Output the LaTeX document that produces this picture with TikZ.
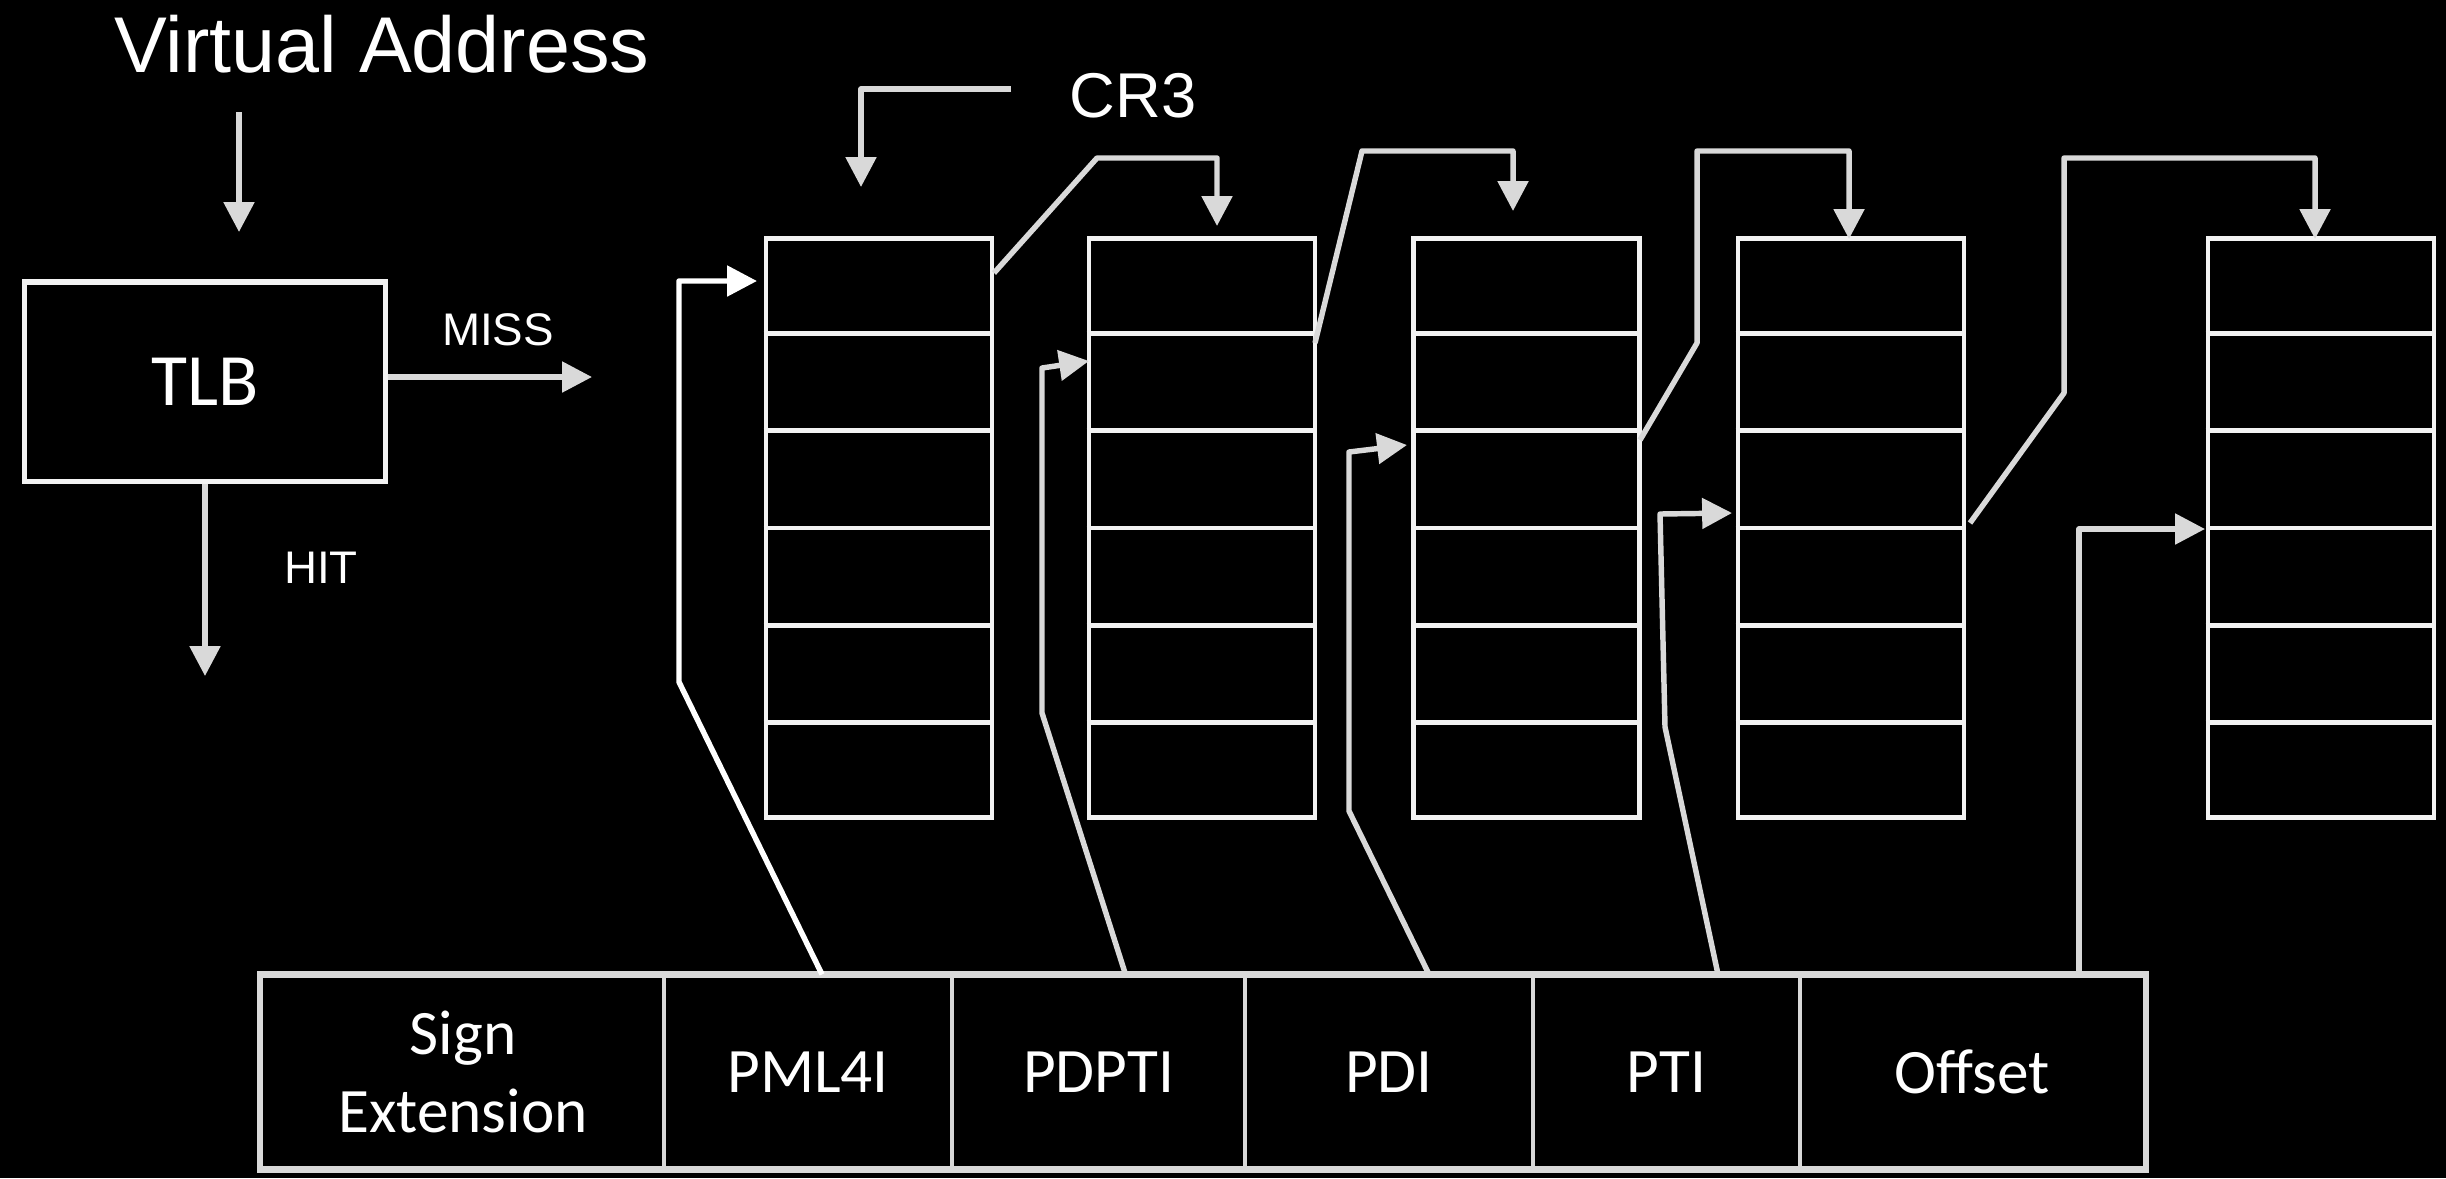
\documentclass[tikz,border=0pt]{standalone}
\usepackage{fontspec}
\newfontfamily\arial{Liberation Sans}
\newfontfamily\calib{Carlito}
\usetikzlibrary{arrows.meta,calc}
\definecolor{conn}{HTML}{D9D9D9}
\definecolor{boxc}{HTML}{F2F2F2}
\tikzset{
  tbl/.style={draw=boxc, line width=1.35pt, minimum width=2.26cm, minimum height=5.78cm, inner sep=0pt},
  cell/.style={draw=conn, line width=0.9pt, minimum height=1.92cm, inner sep=0pt, text=white, font=\calib\fontsize{18}{22}\selectfont, align=center},
  conline/.style={draw=conn, line width=1.55pt, line join=round},
  arr/.style={conline, -{Triangle[length=8.5pt,width=8.5pt]}},
  lbl/.style={text=white, inner sep=0pt}
}
\begin{document}
\begin{tikzpicture}[x=0.01cm,y=-0.01cm]
\fill[black] (0,0) rectangle (2446,1178);
\useasboundingbox (0,0) rectangle (2446,1178);

% titles
\node[lbl, font=\arial\fontsize{22.5}{26}\selectfont] (va) at (382,44) {Virtual Address};
\node[lbl, font=\arial\fontsize{18}{22}\selectfont] (cr3) at (1133,96) {CR3};

% TLB
\node[draw=boxc, line width=1.45pt, minimum width=3.6cm, minimum height=1.99cm, inner sep=0pt, text=white, font=\calib\fontsize{21}{25}\selectfont] (tlb) at (205,381.5) {TLB};
\node[lbl, font=\arial\fontsize{13}{16}\selectfont] (miss) at (498,330) {MISS};
\node[lbl, font=\arial\fontsize{13}{16}\selectfont] (hit) at (321,568) {HIT};

\coordinate (vaA) at (239,112);
\coordinate (vaB) at (239,232);
\draw[arr] (vaA) -- (vaB);
\coordinate (missend) at (592,377);
\draw[arr] (tlb.east |- missend) -- (missend);
\coordinate (hitend) at (205,676);
\draw[arr] (tlb.south) -- (hitend);

% tables
\node[tbl] (t1) at (879,528) {};
\node[tbl] (t2) at (1202,528) {};
\node[tbl] (t3) at (1526.5,528) {};
\node[tbl] (t4) at (1851,528) {};
\node[tbl] (t5) at (2321,528) {};
\foreach \t in {t1,t2,t3,t4,t5}{
  \foreach \i in {1,...,5}{
    \draw[boxc, line width=1.35pt] ($(\t.north west)!\i/6!(\t.south west)$) -- ($(\t.north east)!\i/6!(\t.south east)$);
  }
}

% address bar
\node[cell, minimum width=4.02cm] (c1) at (463,1072) {Sign\\Extension};
\node[cell, minimum width=2.88cm] (c2) at (808,1072) {PML4I};
\node[cell, minimum width=2.93cm] (c3) at (1098.5,1072) {PDPTI};
\node[cell, minimum width=2.88cm] (c4) at (1389,1072) {PDI};
\node[cell, minimum width=2.67cm] (c5) at (1666.5,1072) {PTI};
\node[cell, minimum width=3.44cm] (c6) at (1972,1072) {Offset};
\draw[conn, line width=1.7pt] (c1.north west) rectangle (c6.south east);

% CR3 arrow
\coordinate (cr3s) at (1011,89);
\coordinate (cr3e) at (861,187);
\draw[arr] (cr3s) -| (cr3e);

% table-to-table arrows
\coordinate (s12) at (994,273);
\coordinate (e12) at (1217,226);
\draw[arr] (s12) -- (1097,158) -| (e12);
\coordinate (s23) at (1315,343);
\coordinate (e23) at (1513,211);
\draw[arr] (s23) -- (1362,151) -| (e23);
\coordinate (s34) at (1640,440);
\coordinate (e34) at (1849,239);
\draw[arr] (s34) -- (1697,343) -- (1697,151) -| (e34);
\coordinate (s45) at (1970,523);
\coordinate (e45) at (2315,239);
\draw[arr] (s45) -- (2064,393) -- (2064,158) -| (e45);

% bar-to-table arrows
\coordinate (e1) at (757,281);
\draw[arr, draw=white] ($(c2.north)+(14,0)$) -- (679,682) -- (679,281) -- (e1);
\coordinate (e2) at (1089,361);
\draw[arr] ($(c3.north)+(27,0)$) -- (1042,713) -- (1042,368) -- (e2);
\coordinate (e3) at (1407,445);
\draw[arr] ($(c4.north)+(40,0)$) -- (1349,811) -- (1349,452) -- (e3);
\coordinate (e4) at (1732,513);
\draw[arr] ($(c5.north)+(51.5,0)$) -- (1665,727) -- (1660,514) -- (e4);
\coordinate (e5) at (2205,529);
\draw[arr] ($(c6.north)+(107,0)$) |- (e5);
\end{tikzpicture}
\end{document}
